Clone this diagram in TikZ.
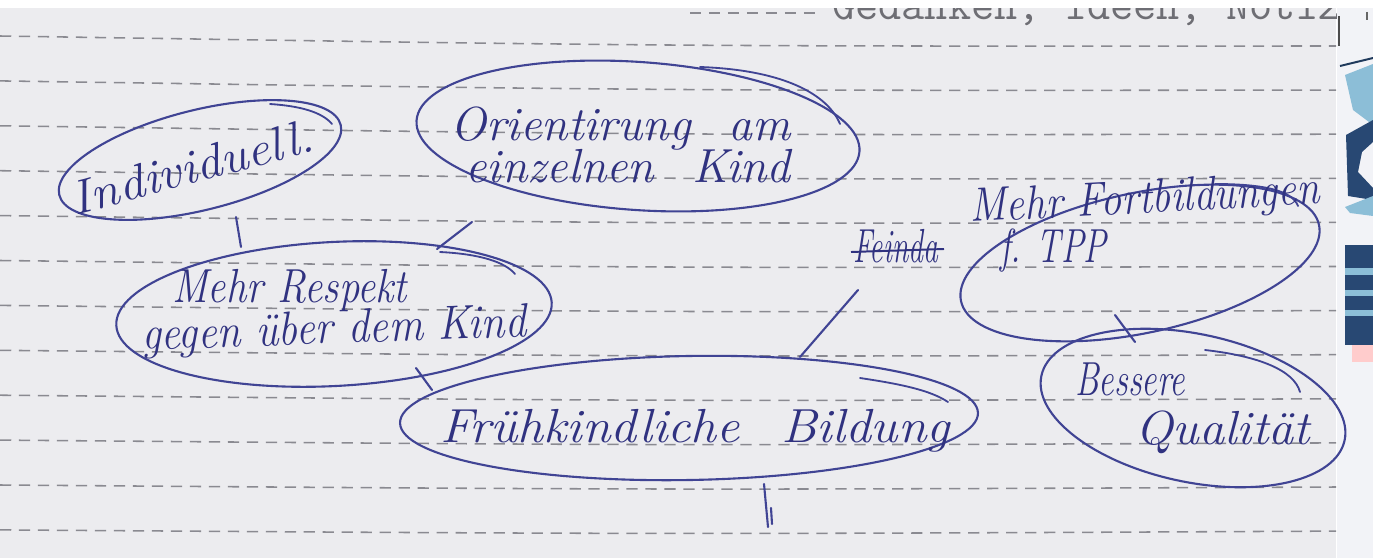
\documentclass[tikz,border=0pt]{standalone}
\usetikzlibrary{shapes.geometric}
\definecolor{paper}{RGB}{236,236,239}
\definecolor{ink}{RGB}{48,50,128}
\definecolor{ring}{RGB}{64,68,148}
\definecolor{rule}{RGB}{138,138,145}
\definecolor{printgray}{RGB}{110,110,116}
\definecolor{navy}{RGB}{40,72,115}
\definecolor{sky}{RGB}{140,190,215}
\definecolor{edgepage}{RGB}{242,243,247}
\def\pxu{0.025cm}
\begin{document}
\begin{tikzpicture}[x=0.025cm,y=-0.025cm,
  bubble/.style={ellipse, draw=ring, line width=1.5pt, inner sep=0pt, outer sep=0pt},
  hand/.style={text=ink, inner sep=0pt, font=\fontsize{34}{38}\selectfont\itshape},
  link/.style={draw=ring, line width=1.5pt, line cap=round},
  pen/.style={draw=ring, line width=1.3pt, line cap=round},
  ruling/.style={draw=rule, line width=1.1pt, dash pattern=on 8pt off 5.5pt},
]
\useasboundingbox (0,0) rectangle (1373,558);
\fill[white] (0,0) rectangle (1373,558);
\fill[paper] (0,8) rectangle (1336,558);
% neighbouring page at the right edge
\fill[edgepage] (1337,8) rectangle (1373,558);
\draw[black!70, line width=1.4pt] (1339,16) -- (1339,46);
\draw[black!60, line width=1.2pt] (1367,12) -- (1367,20);
\fill[sky] (1345,75) -- (1373,64) -- (1373,125) -- (1353,110) -- cycle;
\draw[navy!80!black, line width=1.4pt] (1340,66) -- (1373,58);
\fill[navy] (1346,135) -- (1373,120) -- (1373,142) -- (1362,152) -- (1358,172) -- (1373,188) -- (1373,200) -- (1348,196) -- cycle;
\fill[sky] (1345,207) -- (1373,196) -- (1373,216) -- (1350,213) -- cycle;
\fill[navy] (1345,245) rectangle (1373,345);
\fill[sky] (1345,268) rectangle (1373,275);
\fill[sky] (1345,290) rectangle (1373,296);
\fill[sky] (1345,310) rectangle (1373,316);
\fill[red!20] (1352,345) rectangle (1373,362);
% ruled lines and printed heading
\begin{scope}
  \clip (0,9) rectangle (1336,558);
  \foreach \k in {0,...,11} {
    \pgfmathsetmacro\yl{36+44.9*\k}
    \pgfmathsetmacro\ym{45+44.4*\k}
    \pgfmathsetmacro\yr{46+44.1*\k}
    \pgfmathsetmacro\yc{(8*\ym-\yl-\yr)/6}
    \draw[ruling] (0,\yl) .. controls (668,\yc) .. (1336,\yr);
  }
  \draw[ruling] (690,13) -- (822,13);
  \node[anchor=base west, inner sep=0pt, text=printgray, font=\fontsize{32}{32}\selectfont\ttfamily] (head) at (832,20) {Gedanken, Ideen, Notizen};
\end{scope}
% bubbles
\node[bubble, minimum width=290*\pxu, minimum height=100*\pxu, rotate=14] (eInd) at (200,160) {};
\node[bubble, minimum width=444*\pxu, minimum height=148*\pxu, rotate=-4] (eOri) at (638,136) {};
\node[bubble, minimum width=436*\pxu, minimum height=144*\pxu, rotate=3] (eRes) at (334,314) {};
\node[bubble, minimum width=578*\pxu, minimum height=124*\pxu, rotate=1] (eFru) at (689,418) {};
\node[bubble, minimum width=366*\pxu, minimum height=140*\pxu, rotate=12] (eFor) at (1140,263) {};
\node[bubble, minimum width=310*\pxu, minimum height=148*\pxu, rotate=-12] (eBes) at (1193,408) {};
% pen overshoots of the hand-drawn rings
\draw[pen] (700,67) .. controls (785,70) and (828,95) .. (840,124);
\draw[pen] (1215,184) .. controls (1262,184) and (1292,190) .. (1298,206);
\draw[pen] (1205,350) .. controls (1258,356) and (1294,370) .. (1300,392);
\draw[pen] (860,378) .. controls (900,384) and (930,390) .. (948,402);
\draw[pen] (440,252) .. controls (480,254) and (505,262) .. (515,274);
\draw[pen] (270,104) .. controls (300,106) and (322,112) .. (332,124);
% texts
\node[hand, rotate=15, xscale=1.08] (tInd) at (192,167) {Individuell.};
\node[hand, anchor=base west] (tOri1) at (450,140) {Orientirung\hspace{0.8em}am};
\node[hand, anchor=base west] (tOri2) at (465,182) {einzelnen\hspace{0.8em}Kind};
\node[hand, anchor=base west, xscale=0.85] (tRes1) at (172,302) {Mehr Respekt};
\node[hand, anchor=base west, rotate=2, xscale=0.9] (tRes2) at (142,350) {gegen über dem Kind};
\node[hand, anchor=base west, xscale=1.08] (tFru) at (440,442) {Frühkindliche\hspace{0.8em}Bildung};
\node[hand, anchor=base west, rotate=3, xscale=0.87] (tFor1) at (970,222) {Mehr Fortbildungen};
\node[hand, anchor=base west, xscale=0.72] (tFor2) at (1000,262) {f. TPP};
\node[hand, anchor=base west, xscale=0.62] (tStrike) at (853,262) {Feinda};
\coordinate (sA) at (851,252);
\coordinate (sB) at (944,249);
\draw[ink, line width=1.4pt] (sA) -- (sB);
\node[hand, anchor=base west, xscale=0.72] (tBes1) at (1075,395) {Bessere};
\node[hand, anchor=base west, xscale=1.05] (tBes2) at (1135,444) {Qualität};
% connectors
\coordinate (c1a) at (236,217); \coordinate (c1b) at (241,247);
\coordinate (c2a) at (472,222); \coordinate (c2b) at (437,249);
\coordinate (c3a) at (416,368); \coordinate (c3b) at (432,390);
\coordinate (c4a) at (800,357); \coordinate (c4b) at (858,290);
\coordinate (c5a) at (1115,315); \coordinate (c5b) at (1135,342);
\coordinate (c6a) at (764,484); \coordinate (c6b) at (768,527);
\coordinate (c7a) at (771,508); \coordinate (c7b) at (772,524);
\draw[link] (c1a) -- (c1b);
\draw[link] (c2a) -- (c2b);
\draw[link] (c3a) -- (c3b);
\draw[link] (c4a) -- (c4b);
\draw[link] (c5a) -- (c5b);
\draw[link] (c6a) -- (c6b);
\draw[link] (c7a) -- (c7b);
\end{tikzpicture}
\end{document}
